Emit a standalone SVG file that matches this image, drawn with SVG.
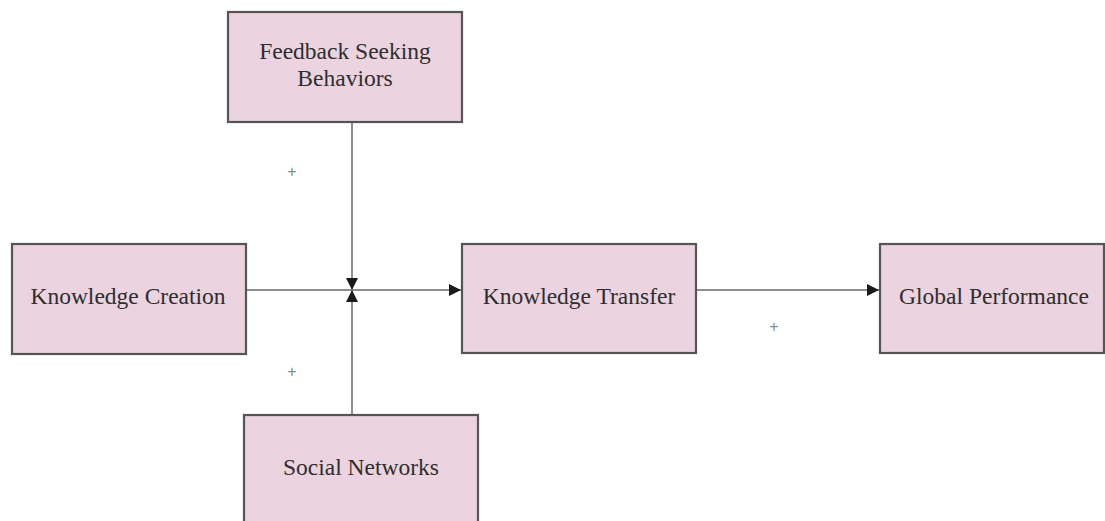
<svg xmlns="http://www.w3.org/2000/svg" width="1105" height="521" viewBox="0 0 1105 521">
  <style>
    .box { fill: #ebd3e0; stroke: #555555; stroke-width: 2.2; }
    .lbl { font-family: "Liberation Serif", "Times New Roman", serif; font-size: 23.5px; fill: #2e2e2e; text-anchor: middle; }
    .link { stroke: #8f8f8f; stroke-width: 2; fill: none; }
    .sign { font-family: "Liberation Sans", Arial, sans-serif; font-size: 16px; fill: #8c8c8c; text-anchor: middle; }
  </style>
  <defs>
    <marker id="arrow" viewBox="0 0 12 12" refX="12" refY="6" markerWidth="12" markerHeight="12" markerUnits="userSpaceOnUse" orient="auto">
      <path d="M0,0 L12,6 L0,12 Z" fill="#1a1a1a"/>
    </marker>
  </defs>
  <rect width="1105" height="521" fill="#ffffff"/>

  <g id="connectors">
    <line class="link" x1="246" y1="290" x2="461" y2="290" marker-end="url(#arrow)"/>
    <line class="link" x1="352" y1="122" x2="352" y2="290" marker-end="url(#arrow)"/>
    <line class="link" x1="352" y1="415" x2="352" y2="290" marker-end="url(#arrow)"/>
    <line class="link" x1="696" y1="290" x2="879" y2="290" marker-end="url(#arrow)"/>
  </g>

  <g id="signs">
    <text class="sign" x="292" y="177">+</text>
    <text class="sign" x="292" y="377">+</text>
    <text class="sign" x="774" y="332">+</text>
  </g>

  <g id="feedback-seeking">
    <rect class="box" x="228" y="12" width="234" height="110"/>
    <text class="lbl" x="345" y="59">Feedback Seeking</text>
    <text class="lbl" x="345" y="86">Behaviors</text>
  </g>

  <g id="knowledge-creation">
    <rect class="box" x="12" y="244" width="234" height="110"/>
    <text class="lbl" x="128" y="304">Knowledge Creation</text>
  </g>

  <g id="knowledge-transfer">
    <rect class="box" x="462" y="244" width="234" height="109"/>
    <text class="lbl" x="579" y="304">Knowledge Transfer</text>
  </g>

  <g id="global-performance">
    <rect class="box" x="880" y="244" width="224" height="109"/>
    <text class="lbl" x="994" y="304">Global Performance</text>
  </g>

  <g id="social-networks">
    <rect class="box" x="244" y="415" width="234" height="112"/>
    <text class="lbl" x="361" y="475">Social Networks</text>
  </g>
</svg>
